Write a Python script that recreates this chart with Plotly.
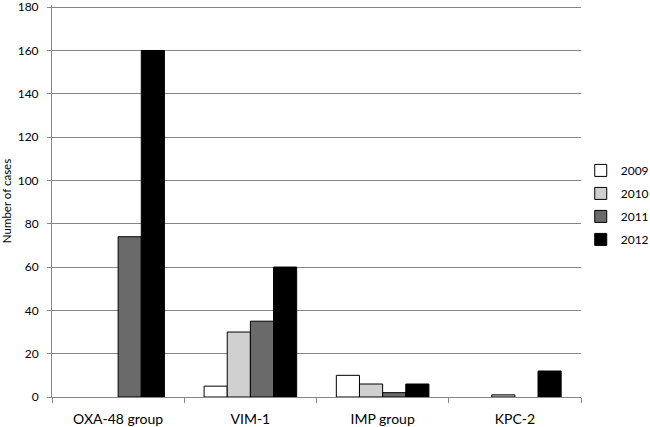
import plotly.graph_objects as go

categories = ["OXA-48 group", "VIM-1", "IMP group", "KPC-2"]
years = ["2009", "2010", "2011", "2012"]
v2009 = [0, 5, 10, 0]
v2010 = [0, 30, 6, 1]
v2011 = [74, 35, 2, 0]
v2012 = [160, 60, 6, 12]
y_ticks = [0, 20, 40, 60, 80, 100, 120, 140, 160, 180]
colors = ["#ffffff", "#d0d0d0", "#6a6a6a", "#000000"]

fig = go.Figure()
for name, vals, c in zip(years, [v2009, v2010, v2011, v2012], colors):
    # zero counts draw no visible bar
    fig.add_trace(go.Bar(x=categories, y=[v if v else None for v in vals],
                         name=name, legendgroup=name,
                         marker=dict(color=c, line=dict(color="#000000", width=1))))

font = "Lato"
fig.update_layout(
    width=650, height=427,
    barmode="group", bargap=0.3, bargroupgap=0,
    plot_bgcolor="white", paper_bgcolor="white",
    margin=dict(l=52, r=69, t=5, b=30, autoexpand=False),
    font=dict(family=font, size=12, color="#000000"),
    legend=dict(x=0.9995, y=0.49, yanchor="middle", xanchor="left",
                font=dict(size=12), tracegroupgap=4, itemwidth=30,
                bgcolor="rgba(0,0,0,0)"),
    xaxis=dict(showline=True, linecolor="#868686", linewidth=1,
               ticks="outside", tickson="boundaries", ticklen=5, tickcolor="#868686",
               tickfont=dict(size=14), automargin=False, ticklabelstandoff=9),
    yaxis=dict(range=[0, 181], tickmode="array", tickvals=y_ticks,
               ticktext=[str(t) for t in y_ticks], ticklabeloverflow="allow",
               showgrid=True, gridcolor="#868686", gridwidth=1,
               showline=True, linecolor="#868686", linewidth=1,
               ticks="outside", ticklen=4, tickcolor="#868686",
               tickfont=dict(size=12), automargin=False, ticklabelstandoff=6,
               title=dict(text="Number of cases", font=dict(size=11.5), standoff=10),
               zeroline=False),
)
fig.write_html("out.html", config={"displayModeBar": False},
               post_script="document.body.style.margin='0';")
